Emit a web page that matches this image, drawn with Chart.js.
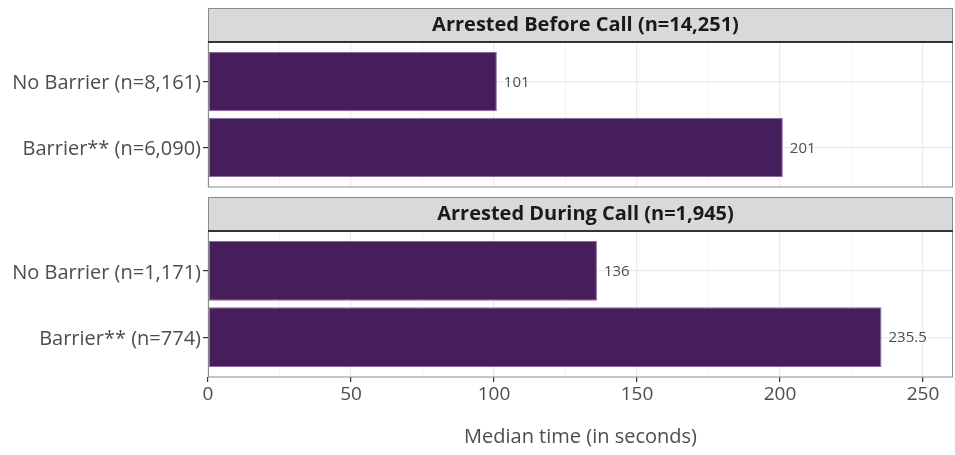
<!DOCTYPE html>
<html>
<head>
<meta charset="utf-8">
<script src="https://cdn.jsdelivr.net/npm/chart.js@4.4.1/dist/chart.umd.min.js"></script>
<style>
  body { margin: 0; background: #fff; }
  #wrap { position: relative; width: 955px; height: 455px; }
  canvas { position: absolute; left: 0; }
</style>
</head>
<body>
<div id="wrap">
  <canvas id="top" width="955" height="190" style="top:0"></canvas>
  <canvas id="bottom" width="955" height="265" style="top:190px"></canvas>
</div>
<script>
const panelTitles = ["Arrested Before Call (n=14,251)", "Arrested During Call (n=1,945)"];
const categoriesBefore = ["No Barrier (n=8,161)", "Barrier** (n=6,090)"];
const valuesBefore = [101, 201];
const categoriesDuring = ["No Barrier (n=1,171)", "Barrier** (n=774)"];
const valuesDuring = [136, 235.5];
const xTicks = [0, 50, 100, 150, 200, 250];

const FONT = "'Open Sans', 'Noto Sans', sans-serif";
const textCol = "#4d4d4d";

// strip header + panel border, ggplot facet style
const panelFrame = {
    id: "panelFrame",
    afterDraw(chart, args, opts) {
        const a = chart.chartArea;
        const ctx = chart.ctx;
        ctx.save();
        let st = a.top - 34;
        ctx.fillStyle = "#d9d9d9";
        ctx.fillRect(a.left, st, a.right - a.left, 34);
        ctx.strokeStyle = "#8a8a8a";
        ctx.lineWidth = 1;
        ctx.strokeRect(a.left + 0.5, st + 0.5, a.right - a.left - 1, 34);
        ctx.strokeRect(a.left + 0.5, a.top, a.right - a.left - 1, a.bottom - a.top);
        ctx.strokeStyle = "#333";
        ctx.lineWidth = 2;
        ctx.beginPath();
        ctx.moveTo(a.left, a.top);
        ctx.lineTo(a.right, a.top);
        ctx.stroke();
        ctx.fillStyle = "#1a1a1a";
        ctx.font = "bold 20px " + FONT;
        ctx.textAlign = "center";
        ctx.textBaseline = "middle";
        ctx.fillText(opts.title, (a.left + a.right) / 2 + 5, st + 17);
        ctx.restore();
    }
};

const valueLabels = {
    id: "valueLabels",
    afterDatasetsDraw(chart) {
        const ctx = chart.ctx;
        const meta = chart.getDatasetMeta(0);
        const vals = chart.data.datasets[0].data;
        ctx.save();
        ctx.fillStyle = textCol;
        ctx.font = "15px " + FONT;
        ctx.textBaseline = "middle";
        meta.data.forEach((bar, i) => {
            ctx.fillText(String(vals[i].x), bar.x + 7, bar.y + 1);
        });
        ctx.restore();
    }
};

function makeChart(id, title, cats, vals, showX) {
    return new Chart(document.getElementById(id), {
        type: "bar",
        data: {
            datasets: [{
                data: vals.map((v, i) => ({x: v, y: i})),
                backgroundColor: "#461e5c",
                borderColor: "#8a6c9c",
                borderWidth: 1,
                borderSkipped: false,
                categoryPercentage: 1,
                barPercentage: 0.9
            }]
        },
        plugins: [panelFrame, valueLabels],
        options: {
            indexAxis: "y",
            responsive: false,
            animation: false,
            layout: { padding: { top: showX ? 41 : 42, bottom: showX ? 0 : 3, left: 0, right: 2 } },
            plugins: {
                legend: { display: false },
                tooltip: { enabled: false },
                panelFrame: { title: title }
            },
            scales: {
                x: {
                    type: "linear",
                    min: 0,
                    max: 260.5,
                    offset: false,
                    afterBuildTicks: s => {
                        let t = [];
                        for (let v = 0; v <= 250; v += 25) t.push({value: v});
                        s.ticks = t;
                    },
                    afterFit: s => { s.height = showX ? 78 : 0; s.paddingLeft = 0; s.paddingRight = 0; },
                    border: { display: false },
                    grid: {
                        offset: false,
                        color: c => (c.tick && c.tick.value % 50 === 0) ? "#ebebeb" : "#f4f4f4",
                        lineWidth: c => (c.tick && c.tick.value % 50 === 0) ? 1.2 : 1,
                        drawTicks: showX,
                        tickLength: 5,
                        tickColor: c => (c.tick && c.tick.value % 50 === 0) ? "#333" : "rgba(0,0,0,0)"
                    },
                    ticks: {
                        display: showX,
                        autoSkip: false,
                        maxRotation: 0,
                        padding: 1,
                        color: textCol,
                        font: { family: FONT, size: 19 },
                        callback: v => xTicks.includes(v) ? String(v) : ""
                    },
                    title: {
                        display: showX,
                        text: "Median time (in seconds)",
                        color: textCol,
                        font: { family: FONT, size: 20 },
                        padding: { top: 6, bottom: 6 }
                    }
                },
                y: {
                    type: "linear",
                    reverse: true,
                    min: -0.6,
                    max: 1.6,
                    offset: false,
                    afterBuildTicks: s => { s.ticks = cats.map((c, i) => ({value: i})); },
                    afterFit: s => { s.width = 208; s.paddingTop = 0; s.paddingBottom = 0; },
                    border: { display: false },
                    grid: {
                        offset: false,
                        color: "#ebebeb",
                        lineWidth: 1.2,
                        tickLength: 5,
                        tickColor: "#333"
                    },
                    ticks: {
                        padding: 2,
                        labelOffset: 2,
                        color: textCol,
                        font: { family: FONT, size: 20 },
                        callback: v => cats[v]
                    }
                }
            }
        }
    });
}

makeChart("top", panelTitles[0], categoriesBefore, valuesBefore, false);
makeChart("bottom", panelTitles[1], categoriesDuring, valuesDuring, true);
</script>
</body>
</html>
